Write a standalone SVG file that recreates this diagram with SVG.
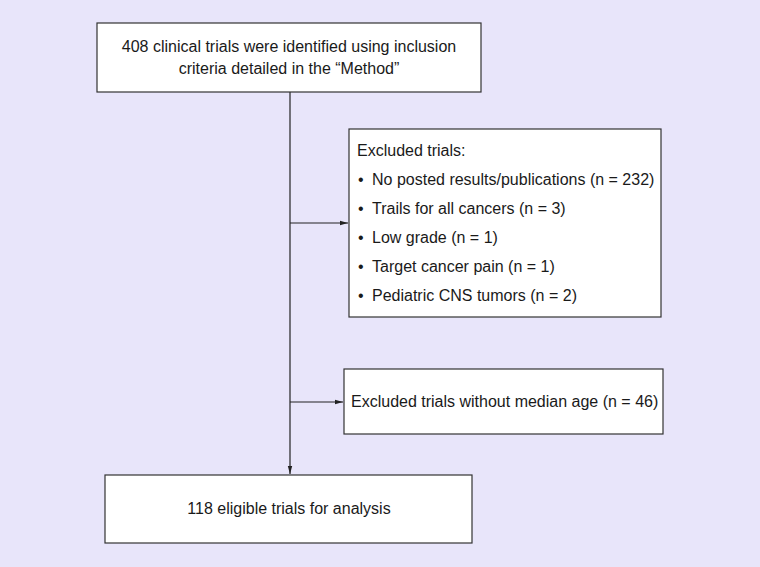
<svg xmlns="http://www.w3.org/2000/svg" width="760" height="567" viewBox="0 0 760 567">
<style>
.box{fill:#fff;stroke:#333;stroke-width:1.2}
.t{font-family:"Liberation Sans",Arial,sans-serif;font-size:16px;fill:#1a1a1a}
.c{fill:none;stroke:#222;stroke-width:1.2}
</style>
<defs>
<marker id="ah" viewBox="0 0 8 6" refX="8" refY="3" markerWidth="8" markerHeight="6" markerUnits="userSpaceOnUse" orient="auto">
<path d="M0,0.8 L8,3 L0,5.2 Z" fill="#222"/>
</marker>
</defs>
<rect width="760" height="567" fill="#E8E5FA"/>
<g id="connectors">
<line class="c" x1="290" y1="92" x2="290" y2="474" marker-end="url(#ah)"/>
<line class="c" x1="290" y1="223" x2="348" y2="223" marker-end="url(#ah)"/>
<line class="c" x1="290" y1="402" x2="343" y2="402" marker-end="url(#ah)"/>
</g>
<g id="identified">
<rect class="box" x="97" y="23" width="384" height="69"/>
<text class="t" x="289" y="52" text-anchor="middle">408 clinical trials were identified using inclusion</text>
<text class="t" x="289" y="74" text-anchor="middle">criteria detailed in the “Method”</text>
</g>
<g id="excluded1">
<rect class="box" x="349" y="129" width="312" height="188"/>
<text class="t" x="357" y="156">Excluded trials:</text>
<text class="t" x="358" y="185">•</text><text class="t" x="372" y="185">No posted results/publications (n = 232)</text>
<text class="t" x="358" y="214">•</text><text class="t" x="372" y="214">Trails for all cancers (n = 3)</text>
<text class="t" x="358" y="243">•</text><text class="t" x="372" y="243">Low grade (n = 1)</text>
<text class="t" x="358" y="272">•</text><text class="t" x="372" y="272">Target cancer pain (n = 1)</text>
<text class="t" x="358" y="301">•</text><text class="t" x="372" y="301">Pediatric CNS tumors (n = 2)</text>
</g>
<g id="excluded2">
<rect class="box" x="344" y="369" width="319" height="65"/>
<text class="t" x="351" y="407">Excluded trials without median age (n = 46)</text>
</g>
<g id="eligible">
<rect class="box" x="105" y="475" width="367" height="68"/>
<text class="t" x="289" y="514" text-anchor="middle">118 eligible trials for analysis</text>
</g>
</svg>
